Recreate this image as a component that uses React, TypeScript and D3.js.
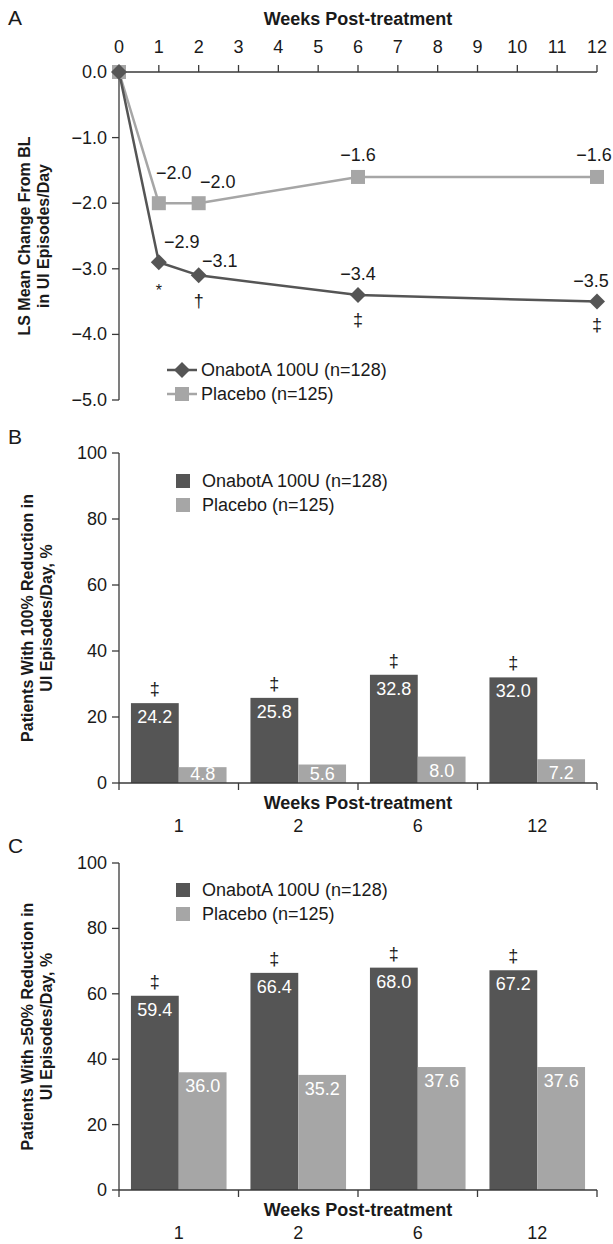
import React from "react";
import * as d3 from "d3";

// ---------- Data ----------
const weeksA = [0, 1, 2, 6, 12];
const onabotChange = [0, -2.9, -3.1, -3.4, -3.5];
const placeboChange = [0, -2.0, -2.0, -1.6, -1.6];
const onabotSig = ["", "*", "†", "‡", "‡"];
const xTicksA = d3.range(0, 13);
const yTicksA = [0, -1, -2, -3, -4, -5];

const weekCats = ["1", "2", "6", "12"];
const onabot100 = [24.2, 25.8, 32.8, 32.0];
const placebo100 = [4.8, 5.6, 8.0, 7.2];
const onabot50 = [59.4, 66.4, 68.0, 67.2];
const placebo50 = [36.0, 35.2, 37.6, 37.6];
const barSig = ["‡", "‡", "‡", "‡"];
const yTicksBar = [0, 20, 40, 60, 80, 100];

const seriesNames = ["OnabotA 100U (n=128)", "Placebo (n=125)"];

// ---------- Styles ----------
const FONT = "'Liberation Sans', Arial, Helvetica, sans-serif";
const DARK = "#555555";
const LIGHT = "#a6a6a6";
const AXIS = "#3a3a3a";
const TEXT = "#1a1a1a";

const fmt = d3.format(".1f");

const X0 = 119;
const X1 = 597;

function PanelA() {
  const x = d3.scaleLinear().domain([0, 12]).range([X0, X1]);
  const y = d3.scaleLinear().domain([0, -5]).range([72, 400]);
  const line = d3
    .line<number>()
    .x((_, i) => x(weeksA[i]))
    .y((d) => y(d));
  // label nudges (layout only)
  const plDx = [0, 15, 19, 0, -3];
  const plDy = [0, -30, -21, -22, -22];
  const onDx = [0, 23, 21, 0, -6];
  const onDy = [0, -20, -14, -21, -21];
  const sigDy = [0, 22, 26, 25, 23];
  const diamond = (cx: number, cy: number, r: number) =>
    `M${cx},${cy - r}L${cx + r},${cy}L${cx},${cy + r}L${cx - r},${cy}Z`;
  return (
    <g>
      <text x={8} y={25} fontSize={21} fill={TEXT}>A</text>
      <text x={358} y={25} fontSize={18} fontWeight="bold" textAnchor="middle" fill={TEXT}>
        Weeks Post-treatment
      </text>
      {/* top x axis */}
      <line x1={X0} x2={X1} y1={y(0)} y2={y(0)} stroke={AXIS} strokeWidth={1.3} />
      {xTicksA.map((t) => (
        <g key={t}>
          <line x1={x(t)} x2={x(t)} y1={y(0)} y2={y(0) - 7} stroke={AXIS} strokeWidth={1.3} />
          <text x={x(t)} y={53} fontSize={18} textAnchor="middle" fill={TEXT}>
            {t}
          </text>
        </g>
      ))}
      {/* left y axis */}
      <line x1={X0} x2={X0} y1={y(0)} y2={y(-5)} stroke={AXIS} strokeWidth={1.3} />
      {yTicksA.map((t) => (
        <g key={t}>
          <line x1={X0 - 7} x2={X0} y1={y(t)} y2={y(t)} stroke={AXIS} strokeWidth={1.3} />
          <text x={107} y={y(t) + 6} fontSize={18} textAnchor="end" fill={TEXT}>
            {fmt(t)}
          </text>
        </g>
      ))}
      <text
        transform={`translate(30,${(y(0) + y(-5)) / 2}) rotate(-90)`}
        fontSize={16}
        fontWeight="bold"
        textAnchor="middle"
        fill={TEXT}
      >
        <tspan x={0} dy={0}>LS Mean Change From BL</tspan>
        <tspan x={0} dy={19}>in UI Episodes/Day</tspan>
      </text>
      {/* lines */}
      <path d={line(placeboChange) || ""} fill="none" stroke={LIGHT} strokeWidth={2.5} />
      <path d={line(onabotChange) || ""} fill="none" stroke={DARK} strokeWidth={2.5} />
      {placeboChange.map((v, i) => (
        <rect key={"p" + i} x={x(weeksA[i]) - 7} y={y(v) - 7} width={14} height={14} fill={LIGHT} />
      ))}
      {onabotChange.map((v, i) => (
        <path key={"o" + i} d={diamond(x(weeksA[i]), y(v), 8)} fill={DARK} />
      ))}
      {placeboChange.map((v, i) =>
        i === 0 ? null : (
          <text key={"pl" + i} x={x(weeksA[i]) + plDx[i]} y={y(v) + plDy[i] + 6} fontSize={18} textAnchor="middle" fill={TEXT}>
            {fmt(v)}
          </text>
        )
      )}
      {onabotChange.map((v, i) =>
        i === 0 ? null : (
          <text key={"ol" + i} x={x(weeksA[i]) + onDx[i]} y={y(v) + onDy[i] + 6} fontSize={18} textAnchor="middle" fill={TEXT}>
            {fmt(v)}
          </text>
        )
      )}
      {onabotSig.map((s, i) =>
        s ? (
          <text
            key={"s" + i}
            x={x(weeksA[i])}
            y={y(onabotChange[i]) + sigDy[i] + (s === "*" ? 12 : 6)}
            fontSize={s === "*" ? 16 : 18}
            textAnchor="middle"
            fill={TEXT}
          >
            {s}
          </text>
        ) : null
      )}
      {/* legend */}
      <line x1={167} x2={197} y1={370} y2={370} stroke={DARK} strokeWidth={2.5} />
      <path d={diamond(182, 370, 8)} fill={DARK} />
      <text x={201} y={376} fontSize={18} fill={TEXT}>{seriesNames[0]}</text>
      <line x1={167} x2={197} y1={394} y2={394} stroke={LIGHT} strokeWidth={2.5} />
      <rect x={175} y={387} width={14} height={14} fill={LIGHT} />
      <text x={201} y={400} fontSize={18} fill={TEXT}>{seriesNames[1]}</text>
    </g>
  );
}

function BarPanel(props: {
  letter: string;
  letterY: number;
  yBase: number;
  yTop: number;
  a: number[];
  b: number[];
  labelLines: string[];
  legendY: number;
}) {
  const { letter, letterY, yBase, yTop, a, b, labelLines, legendY } = props;
  const y = d3.scaleLinear().domain([0, 100]).range([yBase, yTop]);
  const x = d3.scaleBand<string>().domain(weekCats).range([X0, X1]).paddingInner(0.2).paddingOuter(0.1);
  const xs = d3.scaleBand<number>().domain([0, 1]).range([0, x.bandwidth()]);
  const step = x.step();
  const labelY = (v: number) => Math.min(y(v) + 14, yBase - 9) + 6;
  return (
    <g>
      <text x={8} y={letterY + 8} fontSize={21} fill={TEXT}>{letter}</text>
      {/* bars */}
      {weekCats.map((c, i) => (
        <g key={c}>
          <rect x={x(c)! + xs(0)!} y={y(a[i])} width={xs.bandwidth()} height={yBase - y(a[i])} fill={DARK} />
          <rect x={x(c)! + xs(1)!} y={y(b[i])} width={xs.bandwidth()} height={yBase - y(b[i])} fill={LIGHT} />
          <text x={x(c)! + xs(0)! + xs.bandwidth() / 2} y={labelY(a[i])} fontSize={18} fill="#ffffff" textAnchor="middle">
            {fmt(a[i])}
          </text>
          <text x={x(c)! + xs(1)! + xs.bandwidth() / 2} y={labelY(b[i])} fontSize={18} fill="#ffffff" textAnchor="middle">
            {fmt(b[i])}
          </text>
          <text x={x(c)! + xs(0)! + xs.bandwidth() / 2} y={y(a[i]) - 14 + 6} fontSize={18} fill={TEXT} textAnchor="middle">
            {barSig[i]}
          </text>
        </g>
      ))}
      {/* y axis */}
      <line x1={X0} x2={X0} y1={yBase} y2={yTop} stroke={AXIS} strokeWidth={1.3} />
      {yTicksBar.map((t) => (
        <g key={t}>
          <line x1={X0 - 7} x2={X0} y1={y(t)} y2={y(t)} stroke={AXIS} strokeWidth={1.3} />
          <text x={107} y={y(t) + 6} fontSize={18} textAnchor="end" fill={TEXT}>
            {t}
          </text>
        </g>
      ))}
      {/* x axis */}
      <line x1={X0} x2={X1} y1={yBase} y2={yBase} stroke={AXIS} strokeWidth={1.3} />
      {d3.range(0, weekCats.length + 1).map((i) => (
        <line key={i} x1={X0 + i * step} x2={X0 + i * step} y1={yBase} y2={yBase + 7} stroke={AXIS} strokeWidth={1.3} />
      ))}
      <text x={358} y={yBase + 26} fontSize={18} fontWeight="bold" textAnchor="middle" fill={TEXT}>
        Weeks Post-treatment
      </text>
      {weekCats.map((c) => (
        <text key={c} x={x(c)! + x.bandwidth() / 2} y={yBase + 49} fontSize={18} textAnchor="middle" fill={TEXT}>
          {c}
        </text>
      ))}
      <text
        transform={`translate(33,${(yBase + yTop) / 2}) rotate(-90)`}
        fontSize={16}
        fontWeight="bold"
        textAnchor="middle"
        fill={TEXT}
      >
        <tspan x={0} dy={0}>{labelLines[0]}</tspan>
        <tspan x={0} dy={19}>{labelLines[1]}</tspan>
      </text>
      {/* legend */}
      <rect x={176} y={legendY - 7} width={14} height={14} fill={DARK} />
      <text x={202} y={legendY + 6} fontSize={18} fill={TEXT}>{seriesNames[0]}</text>
      <rect x={176} y={legendY + 24 - 7} width={14} height={14} fill={LIGHT} />
      <text x={202} y={legendY + 24 + 6} fontSize={18} fill={TEXT}>{seriesNames[1]}</text>
    </g>
  );
}

export default function App() {
  return (
    <svg
      width={613}
      height={1244}
      style={{ position: "absolute", left: 0, top: 0, background: "#ffffff" }}
      fontFamily={FONT}
    >
      <rect width={613} height={1244} fill="#ffffff" />
      <PanelA />
      <BarPanel
        letter="B"
        letterY={436}
        yBase={783}
        yTop={453}
        a={onabot100}
        b={placebo100}
        labelLines={["Patients With 100% Reduction in", "UI Episodes/Day, %"]}
        legendY={481}
      />
      <BarPanel
        letter="C"
        letterY={845}
        yBase={1190}
        yTop={863}
        a={onabot50}
        b={placebo50}
        labelLines={["Patients With ≥50% Reduction in", "UI Episodes/Day, %"]}
        legendY={890}
      />
    </svg>
  );
}
